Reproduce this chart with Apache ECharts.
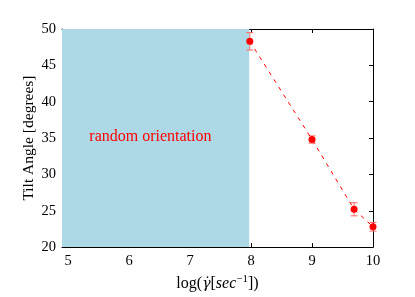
<!DOCTYPE html>
<html><head><meta charset="utf-8">
<script src="https://cdn.jsdelivr.net/npm/echarts@6/dist/echarts.min.js"></script>
<style>html,body{margin:0;padding:0;background:#fff}#c{width:415px;height:297px}</style>
</head><body><div id="c"></div>
<script>
const xTicks = [5, 6, 7, 8, 9, 10];
const yTicks = [20, 25, 30, 35, 40, 45, 50];
const shearLog = [7.98, 9.0, 9.69, 10.0];
const tiltAngle = [48.3, 34.8, 25.2, 22.8];
const tiltErr = [1.2, 0.5, 0.9, 0.6];
const randomRegion = [4.9, 7.97];
const regionLabel = 'random orientation';

const FONT = 'Liberation Serif';
const chart = echarts.init(document.getElementById('c'), null, {renderer: 'canvas'});
const errData = shearLog.map((x, i) => [x, tiltAngle[i] - tiltErr[i], tiltAngle[i] + tiltErr[i]]);
const pts = shearLog.map((x, i) => [x, tiltAngle[i]]);
const axCommon = {
  axisLine: {show: true, onZero: false, lineStyle: {color: '#000', width: 1}},
  axisTick: {show: true, inside: true, length: 4, lineStyle: {color: '#000'}},
  splitLine: {show: false}
};
chart.setOption({
  animation: false,
  grid: {left: 62, right: 42, top: 29, bottom: 45},
  xAxis: [
    Object.assign({type: 'value', min: 4.9, max: 10, position: 'bottom',
      axisLabel: {color: '#000', fontFamily: FONT, fontSize: 14.5, margin: 7, customValues: xTicks},
      name: 'log({g|γ̇}[{it|sec}{sup|−1}])', nameLocation: 'middle', nameGap: 26,
      nameTextStyle: {color: '#000', fontFamily: FONT, fontSize: 16,
        rich: {it: {fontFamily: FONT, fontStyle: 'italic', fontSize: 16, color: '#000'},
               g: {fontFamily: 'DejaVu Serif', fontStyle: 'italic', fontSize: 14, color: '#000'},
               sup: {fontFamily: FONT, fontSize: 11, color: '#000', verticalAlign: 'bottom', padding: [0,0,9,0]}}}
    }, axCommon, {axisTick: Object.assign({}, axCommon.axisTick, {customValues: xTicks})}),
    Object.assign({type: 'value', min: 4.9, max: 10, position: 'top', axisLabel: {show: false}},
      axCommon, {axisTick: Object.assign({}, axCommon.axisTick, {customValues: xTicks})})
  ],
  yAxis: [
    Object.assign({type: 'value', min: 20, max: 50, interval: 5, position: 'left',
      axisLabel: {color: '#000', fontFamily: FONT, fontSize: 14.5, margin: 6},
      name: 'Tilt Angle [degrees]', nameLocation: 'middle', nameGap: 25, nameRotate: 90, nameMoveOverlap: false,
      nameTextStyle: {color: '#000', fontFamily: FONT, fontSize: 15.5}
    }, axCommon),
    Object.assign({type: 'value', min: 20, max: 50, interval: 5, position: 'right', axisLabel: {show: false}}, axCommon)
  ],
  series: [
    {
      type: 'line', data: [], xAxisIndex: 0, yAxisIndex: 0, silent: true,
      markArea: {silent: true, itemStyle: {color: '#add8e6', opacity: 1},
        data: [[{xAxis: randomRegion[0], yAxis: 20}, {xAxis: randomRegion[1], yAxis: 50}]]},
      markPoint: {symbol: 'circle', symbolSize: 0, silent: true,
        data: [{coord: [6.35, 35.2], label: {show: true, formatter: regionLabel, color: '#ff0000',
          fontFamily: FONT, fontSize: 16, position: 'inside'}}]}
    },
    {
      type: 'custom', data: errData, silent: true, z: 3, clip: false,
      renderItem: function (params, api) {
        const lo = api.coord([api.value(0), api.value(1)]);
        const hi = api.coord([api.value(0), api.value(2)]);
        const w = 3.5, st = {stroke: '#ff6666', lineWidth: 1};
        return {type: 'group', children: [
          {type: 'line', shape: {x1: lo[0], y1: lo[1], x2: hi[0], y2: hi[1]}, style: st},
          {type: 'line', shape: {x1: lo[0]-w, y1: lo[1], x2: lo[0]+w, y2: lo[1]}, style: st},
          {type: 'line', shape: {x1: hi[0]-w, y1: hi[1], x2: hi[0]+w, y2: hi[1]}, style: st}
        ]};
      }
    },
    {
      type: 'line', data: pts, z: 4, clip: false,
      lineStyle: {color: '#ff0000', type: [4, 5], width: 1},
      symbol: 'circle', symbolSize: 7, showSymbol: true,
      itemStyle: {color: '#ff0000'}
    }
  ]
});
</script></body></html>
